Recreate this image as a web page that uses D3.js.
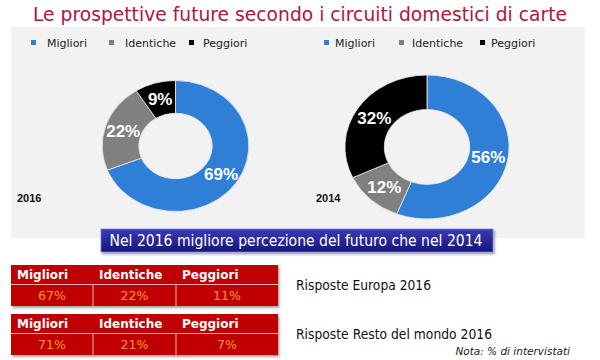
<!DOCTYPE html>
<html>
<head>
<meta charset="utf-8">
<script src="https://cdn.jsdelivr.net/npm/d3@7"></script>
<style>
  html, body { margin: 0; padding: 0; background: #fff; }
  svg { display: block; }
</style>
</head>
<body>
<svg id="chart" width="600" height="360"></svg>
<script>
const categories = [`Migliori`, `Identiche`, `Peggiori`];
const values2016 = [69, 22, 9];
const values2014 = [56, 12, 32];
const europe2016 = [67, 22, 11];
const world2016 = [71, 21, 7];
const colors = [`#2f7fd6`, `#808080`, `#000000`];

const svg = d3.select(`#chart`);
const color = d3.scaleOrdinal().domain(categories).range(colors);

// titolo
svg.append(`text`)
  .attr(`x`, 33).attr(`y`, 21)
  .attr(`textLength`, 534).attr(`lengthAdjust`, `spacingAndGlyphs`)
  .style(`font-family`, `DejaVu Sans, Verdana, sans-serif`)
  .style(`font-size`, `19.5px`)
  .style(`fill`, `#b3143c`)
  .text(`Le prospettive future secondo i circuiti domestici di carte`);

// pannello grigio
svg.append(`rect`)
  .attr(`x`, 11).attr(`y`, 27).attr(`width`, 574).attr(`height`, 211)
  .attr(`fill`, `#f2f2f2`);

const legend = (xs, textXs) => {
  const g = svg.append(`g`);
  categories.forEach((c, i) => {
    g.append(`rect`)
      .attr(`x`, xs[i]).attr(`y`, 40).attr(`width`, 5).attr(`height`, 5)
      .attr(`fill`, color(c));
    g.append(`text`)
      .attr(`x`, textXs[i]).attr(`y`, 47)
      .style(`font-family`, `DejaVu Sans, Verdana, sans-serif`)
      .style(`font-size`, `11px`)
      .style(`fill`, `#222`)
      .text(c);
  });
};
legend([31, 109, 189], [47, 125, 203]);
legend([324, 399, 480], [335, 412, 491]);

const donut = (values, cx, cy, ry, inner, sx, year) => {
  const data = categories.map((c, i) => ({ cat: c, value: values[i] }));
  const pie = d3.pie().value(d => d.value).sort(null);
  const arc = d3.arc().innerRadius(ry * inner).outerRadius(ry);
  const arcs = pie(data);
  const g = svg.append(`g`).attr(`transform`, `translate(${cx},${cy})`);
  g.append(`g`).attr(`transform`, `scale(${sx},1)`)
    .selectAll(`path`)
    .data(arcs)
    .enter().append(`path`)
      .attr(`d`, arc)
      .attr(`fill`, d => color(d.data.cat))
      .attr(`stroke`, `#e8e8e8`)
      .attr(`stroke-width`, 0.8);
  g.selectAll(`text`)
    .data(arcs)
    .enter().append(`text`)
      .attr(`x`, d => arc.centroid(d)[0] * sx)
      .attr(`y`, d => arc.centroid(d)[1])
      .attr(`dy`, `0.36em`)
      .attr(`text-anchor`, `middle`)
      .style(`font-family`, `Liberation Sans, Arial, sans-serif`)
      .style(`font-weight`, `bold`)
      .style(`font-size`, `17px`)
      .style(`fill`, `#fff`)
      .text(d => d.data.value + `%`);
  svg.append(`text`)
    .attr(`x`, cx < 300 ? 17 : 316).attr(`y`, 202)
    .style(`font-family`, `Liberation Sans, Arial, sans-serif`)
    .style(`font-weight`, `bold`)
    .style(`font-size`, `11px`)
    .style(`fill`, `#111`)
    .text(year);
};
donut(values2016, 175.5, 146, 65.5, 0.5, 1.12, `2016`);
donut(values2014, 427, 147, 72, 0.52, 1.14, `2014`);

// banner
const defs = svg.append(`defs`);
const grad = defs.append(`linearGradient`).attr(`id`, `bannerGrad`)
  .attr(`x1`, 0).attr(`y1`, 0).attr(`x2`, 0).attr(`y2`, 1);
grad.append(`stop`).attr(`offset`, `0%`).attr(`stop-color`, `#3c3cb4`);
grad.append(`stop`).attr(`offset`, `100%`).attr(`stop-color`, `#14147a`);
const shadow = defs.append(`filter`).attr(`id`, `shadow`)
  .attr(`x`, `-10%`).attr(`y`, `-20%`).attr(`width`, `130%`).attr(`height`, `160%`);
shadow.append(`feDropShadow`).attr(`dx`, 1.5).attr(`dy`, 2).attr(`stdDeviation`, 1.2)
  .attr(`flood-color`, `#000`).attr(`flood-opacity`, 0.35);

svg.append(`rect`)
  .attr(`x`, 101).attr(`y`, 229).attr(`width`, 392).attr(`height`, 23)
  .attr(`fill`, `url(#bannerGrad)`)
  .attr(`stroke`, `#7a7ae0`).attr(`stroke-width`, 0.8)
  .attr(`filter`, `url(#shadow)`);
svg.append(`text`)
  .attr(`x`, 296).attr(`y`, 246)
  .attr(`text-anchor`, `middle`)
  .attr(`textLength`, 373).attr(`lengthAdjust`, `spacingAndGlyphs`)
  .style(`font-family`, `DejaVu Sans, Verdana, sans-serif`)
  .style(`font-size`, `16px`)
  .style(`fill`, `#fff`)
  .text(`Nel 2016 migliore percezione del futuro che nel 2014`);

// tabelle
const colEdges = [11, 93, 176, 278];
const table = (values, top, label, labelY, labelW) => {
  const g = svg.append(`g`);
  g.append(`rect`)
    .attr(`x`, colEdges[0]).attr(`y`, top)
    .attr(`width`, colEdges[3] - colEdges[0]).attr(`height`, 41)
    .attr(`fill`, `#c00000`)
    .attr(`filter`, `url(#shadow)`);
  g.append(`line`)
    .attr(`x1`, colEdges[0]).attr(`x2`, colEdges[3])
    .attr(`y1`, top + 19.5).attr(`y2`, top + 19.5)
    .attr(`stroke`, `#f0b0b0`).attr(`stroke-width`, 1);
  categories.forEach((c, i) => {
    if (i > 0) {
      g.append(`line`)
        .attr(`x1`, colEdges[i]).attr(`x2`, colEdges[i])
        .attr(`y1`, top + 19.5).attr(`y2`, top + 41)
        .attr(`stroke`, `#f0b0b0`).attr(`stroke-width`, 1);
    }
    g.append(`text`)
      .attr(`x`, colEdges[i] + 6).attr(`y`, top + 14)
      .style(`font-family`, `DejaVu Sans, Verdana, sans-serif`)
      .style(`font-weight`, `bold`)
      .style(`font-size`, `12px`)
      .style(`fill`, `#fff`)
      .text(c);
    g.append(`text`)
      .attr(`x`, (colEdges[i] + colEdges[i + 1]) / 2).attr(`y`, top + 35)
      .attr(`text-anchor`, `middle`)
      .style(`font-family`, `DejaVu Sans, Verdana, sans-serif`)
      .style(`font-size`, `12.5px`)
      .style(`fill`, `#ff9a1e`)
      .text(values[i] + `%`);
  });
  svg.append(`text`)
    .attr(`x`, 296).attr(`y`, labelY)
    .attr(`textLength`, labelW).attr(`lengthAdjust`, `spacingAndGlyphs`)
    .style(`font-family`, `DejaVu Sans, Verdana, sans-serif`)
    .style(`font-size`, `14px`)
    .style(`fill`, `#111`)
    .text(label);
};
table(europe2016, 265, `Risposte Europa 2016`, 290, 135);
table(world2016, 314, `Risposte Resto del mondo 2016`, 339, 196);

svg.append(`text`)
  .attr(`x`, 570).attr(`y`, 355)
  .attr(`text-anchor`, `end`)
  .style(`font-family`, `DejaVu Sans, Verdana, sans-serif`)
  .style(`font-style`, `italic`)
  .style(`font-size`, `10.5px`)
  .style(`fill`, `#222`)
  .text(`Nota: % di intervistati`);
</script>
</body>
</html>
